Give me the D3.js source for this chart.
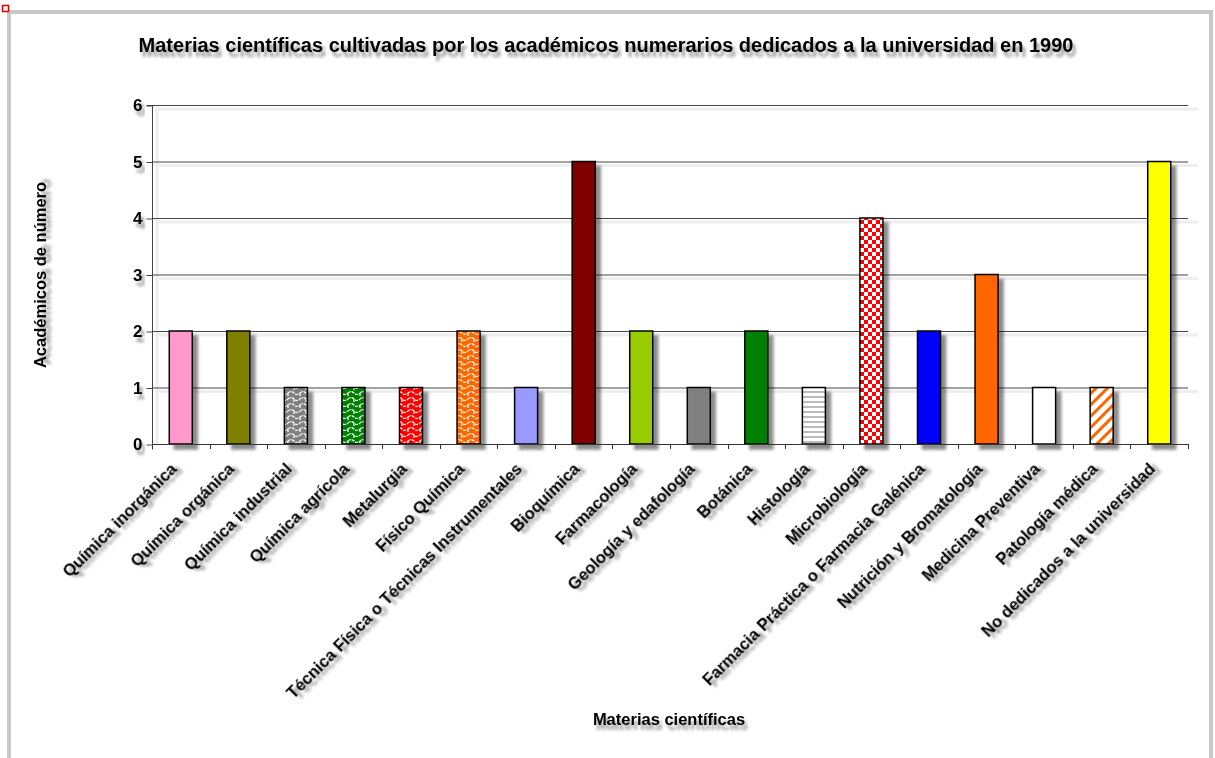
<!DOCTYPE html>
<html><head><meta charset="utf-8">
<script src="https://cdn.jsdelivr.net/npm/d3@7"></script>
<style>
html,body{margin:0;padding:0;background:#fff;}
text{font-family:Arial,"Liberation Sans",sans-serif;font-weight:bold;fill:#000;}
</style></head>
<body><svg id="c" width="1215" height="758"></svg>
<script>
const categories = ["Química inorgánica","Química orgánica","Química industrial","Química agrícola","Metalurgia","Físico Química","Técnica Física o Técnicas Instrumentales","Bioquímica","Farmacología","Geología y edafología","Botánica","Histología","Microbiología","Farmacia Práctica o Farmacia Galénica","Nutrición y Bromatología","Medicina Preventiva","Patología médica","No dedicados a la universidad"];
const values = [2,2,1,1,1,2,1,5,2,1,2,1,4,2,3,1,1,5];
const fills = ["#ff99cc","#808000","url(#shGray)","url(#shGreen)","url(#shRed)","url(#shOrange)","#9999ff","#800000","#99cc00","#808080","#008000","url(#hLines)","url(#checker)","#0000ff","#ff6600","#ffffff","url(#stripes)","#ffff00"];
const yTicks = [0,1,2,3,4,5,6];
const title = "Materias científicas cultivadas por los académicos numerarios dedicados a la universidad en 1990";
const yTitle = "Académicos de número";
const xTitle = "Materias científicas";

const svg = d3.select("#c");
const defs = svg.append("defs");
const f1 = defs.append("filter").attr("id","ts").attr("x","-10%").attr("y","-30%").attr("width","130%").attr("height","190%");
f1.append("feDropShadow").attr("dx",3).attr("dy",5).attr("stdDeviation",1.6).attr("flood-color","#000").attr("flood-opacity",0.4);
const f2 = defs.append("filter").attr("id","bs").attr("x","-20%").attr("y","-10%").attr("width","160%").attr("height","130%");
f2.append("feDropShadow").attr("dx",5).attr("dy",5).attr("stdDeviation",1.8).attr("flood-color","#000").attr("flood-opacity",0.45);

function shingle(id, color){
  const p = defs.append("pattern").attr("id",id).attr("patternUnits","userSpaceOnUse").attr("width",12).attr("height",12);
  p.append("rect").attr("width",12).attr("height",12).attr("fill",color);
  p.append("path").attr("d","M0,3 Q3,0 6,3 Q9,6 12,3 M6,3 L6,6 M0,9 Q3,6 6,9 Q9,12 12,9 M0,9 L0,12 M12,9 L12,12")
   .attr("fill","none").attr("stroke","#fff").attr("stroke-width",1.2).attr("stroke-dasharray","3,1");
}
shingle("shGray","#808080"); shingle("shGreen","#008000"); shingle("shRed","#ff0000"); shingle("shOrange","#ff6600");
const hl = defs.append("pattern").attr("id","hLines").attr("patternUnits","userSpaceOnUse").attr("width",6).attr("height",5);
hl.append("rect").attr("width",6).attr("height",5).attr("fill","#fff");
hl.append("line").attr("x1",0).attr("x2",6).attr("y1",2).attr("y2",2).attr("stroke","#777").attr("stroke-width",1);
const ck = defs.append("pattern").attr("id","checker").attr("patternUnits","userSpaceOnUse").attr("width",8).attr("height",8);
ck.append("rect").attr("width",8).attr("height",8).attr("fill","#fff");
ck.append("rect").attr("width",4).attr("height",4).attr("fill","#ff0000");
ck.append("rect").attr("x",4).attr("y",4).attr("width",4).attr("height",4).attr("fill","#ff0000");
const st = defs.append("pattern").attr("id","stripes").attr("patternUnits","userSpaceOnUse").attr("width",8).attr("height",8).attr("patternTransform","rotate(45)");
st.append("rect").attr("width",8).attr("height",8).attr("fill","#fff");
st.append("rect").attr("width",3).attr("height",8).attr("fill","#ff6600");

// frame
svg.append("rect").attr("x",9).attr("y",12).attr("width",1202).attr("height",760).attr("fill","none").attr("stroke","#c8c8c8").attr("stroke-width",4);
svg.append("rect").attr("x",2.5).attr("y",5.5).attr("width",6).attr("height",6).attr("fill","#fff").attr("stroke","#e00000").attr("stroke-width",1.5);

const x0 = 152, x1 = 1188, yTop = 105, yBot = 444;
const x = d3.scaleBand().domain(categories).range([x0,x1]).paddingInner(0.6).paddingOuter(0.3);
const y = d3.scaleLinear().domain([0,6]).range([yBot,yTop]);

// grid shadows
svg.append("g").selectAll("line").data(yTicks.filter(d=>d>0)).join("line")
  .attr("x1",x0+3).attr("x2",x1+10).attr("y1",d=>y(d)+4).attr("y2",d=>y(d)+4)
  .attr("stroke","#eee").attr("stroke-width",3);
svg.append("line").attr("x1",x0+5).attr("x2",x0+5).attr("y1",yTop+4).attr("y2",yBot).attr("stroke","#eee").attr("stroke-width",3);
// gridlines
svg.append("g").selectAll("line").data(yTicks.filter(d=>d>0)).join("line")
  .attr("x1",x0).attr("x2",x1).attr("y1",d=>y(d)+0.5).attr("y2",d=>y(d)+0.5)
  .attr("stroke","#444").attr("stroke-width",1);

// y axis
const yAxis = svg.append("g").attr("transform",`translate(${x0+0.5},0.5)`)
  .call(d3.axisLeft(y).tickValues(yTicks).tickSize(6).tickPadding(4).tickFormat(d3.format("d")));
yAxis.select(".domain").attr("stroke","#444").attr("d",`M-6,${yTop}H0V${yBot+5}`);
yAxis.selectAll(".tick line").attr("stroke","#444");
yAxis.selectAll(".tick text").attr("font-size",17).attr("font-family","Arial, Liberation Sans, sans-serif").attr("font-weight","bold").attr("filter","url(#ts)");

// bars
svg.append("g").selectAll("rect").data(categories).join("rect")
  .attr("x",d=>x(d)).attr("width",x.bandwidth())
  .attr("y",(d,i)=>y(values[i])).attr("height",(d,i)=>yBot-y(values[i]))
  .attr("fill",(d,i)=>fills[i]).attr("stroke","#000").attr("stroke-width",1.5)
  .attr("filter","url(#bs)");

// x axis
const bounds = d3.range(categories.length+1).map(i=>x0 + i*(x1-x0)/categories.length);
svg.append("line").attr("x1",x0).attr("x2",x1).attr("y1",yBot+0.5).attr("y2",yBot+0.5).attr("stroke","#333").attr("stroke-width",1.2);
svg.append("g").selectAll("line").data(bounds).join("line")
  .attr("x1",d=>Math.round(d)+0.5).attr("x2",d=>Math.round(d)+0.5).attr("y1",yBot).attr("y2",yBot+5).attr("stroke","#333");

// x labels
svg.append("g").selectAll("text").data(categories).join("text")
  .attr("transform",d=>`translate(${x(d)+x.bandwidth()/2-3},${yBot+26}) rotate(-45)`)
  .attr("text-anchor","end").attr("font-size",16.5).attr("filter","url(#ts)")
  .text(d=>d);

// titles
svg.append("text").attr("x",606).attr("y",52).attr("text-anchor","middle").attr("font-size",20).attr("filter","url(#ts)").text(title);
svg.append("text").attr("transform","translate(46,275) rotate(-90)").attr("text-anchor","middle").attr("font-size",16.5).attr("filter","url(#ts)").text(yTitle);
svg.append("text").attr("x",669).attr("y",725).attr("text-anchor","middle").attr("font-size",16.5).attr("filter","url(#ts)").text(xTitle);
</script></body></html>
